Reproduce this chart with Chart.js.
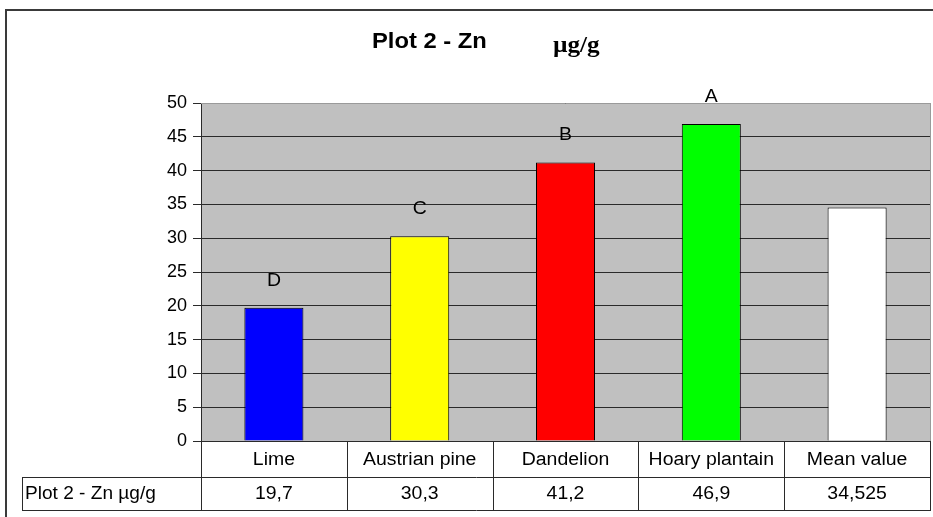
<!DOCTYPE html>
<html>
<head>
<meta charset="utf-8">
<script src="https://cdn.jsdelivr.net/npm/chart.js@4/dist/chart.umd.min.js"></script>
<style>
  html, body { margin: 0; padding: 0; background: #ffffff; }
  #wrap { width: 933px; height: 517px; position: relative; }
</style>
</head>
<body>
<div id="wrap"><canvas id="c" width="933" height="517"></canvas></div>
<script>
// ---- data ----
const categories = ["Lime", "Austrian pine", "Dandelion", "Hoary plantain", "Mean value"];
const zincValues = [19.7, 30.3, 41.2, 46.9, 34.525];
const groupLetters = ["D", "C", "B", "A", ""];
const seriesLabel = "Plot 2 - Zn \u00b5g/g";
const yTicks = [0, 5, 10, 15, 20, 25, 30, 35, 40, 45, 50];

// ---- styles ----
const barColors = ["#0000ff", "#ffff00", "#ff0000", "#00ff00", "#ffffff"];
const SANS = "'Liberation Sans', Arial, sans-serif";
const SERIF = "'Liberation Serif', 'Times New Roman', serif";

const fmt = v => String(v).replace('.', ',');

// draw text slightly stretched horizontally, as in the reference
function wideText(ctx, text, x, y, sx) {
  ctx.save();
  ctx.translate(x, y);
  ctx.scale(sx, 1);
  ctx.fillText(text, 0, 0);
  ctx.restore();
}

const decorPlugin = {
  id: 'decor',
  beforeDraw(chart) {
    const ctx = chart.ctx, a = chart.chartArea;
    ctx.save();
    ctx.fillStyle = '#ffffff';
    ctx.fillRect(0, 0, chart.width, chart.height);
    ctx.fillStyle = '#c0c0c0';
    ctx.fillRect(a.left, a.top, a.right - a.left, a.bottom - a.top);
    ctx.restore();
  },
  afterDraw(chart) {
    const ctx = chart.ctx, a = chart.chartArea;
    const x = chart.scales.x;
    ctx.save();
    // right / top edge of plot area
    ctx.strokeStyle = '#9a9a9a';
    ctx.lineWidth = 1;
    ctx.beginPath();
    ctx.moveTo(a.right + 0.5, a.top); ctx.lineTo(a.right + 0.5, a.bottom);
    ctx.moveTo(a.left, a.top + 0.5); ctx.lineTo(a.right, a.top + 0.5);
    ctx.stroke();

    // letters above bars
    ctx.fillStyle = '#000000';
    ctx.font = '18px ' + SANS;
    ctx.textAlign = 'center';
    ctx.textBaseline = 'middle';
    const meta = chart.getDatasetMeta(0);
    meta.data.forEach((bar, i) => {
      if (groupLetters[i]) wideText(ctx, groupLetters[i], bar.x, bar.y - 27, 1.08);
    });

    // data table
    const n = categories.length;
    const colW = (a.right - a.left) / n;
    const row1Bottom = a.bottom + 36;
    const row2Bottom = a.bottom + 69;
    const labelLeft = 22;
    ctx.strokeStyle = '#2a2a2a';
    ctx.lineWidth = 1;
    ctx.beginPath();
    for (let i = 0; i <= n; i++) {
      const xx = Math.round(a.left + i * colW) + 0.5;
      ctx.moveTo(xx, a.bottom); ctx.lineTo(xx, row2Bottom);
    }
    ctx.moveTo(labelLeft, row1Bottom + 0.5); ctx.lineTo(a.right + 1, row1Bottom + 0.5);
    ctx.moveTo(labelLeft, row2Bottom + 0.5); ctx.lineTo(a.right + 1, row2Bottom + 0.5);
    ctx.moveTo(labelLeft + 0.5, row1Bottom); ctx.lineTo(labelLeft + 0.5, row2Bottom);
    ctx.stroke();

    ctx.fillStyle = '#000000';
    ctx.font = '18px ' + SANS;
    ctx.textAlign = 'center';
    ctx.textBaseline = 'middle';
    categories.forEach((c, i) => {
      const cx = x.getPixelForValue(i);
      wideText(ctx, c, cx, (a.bottom + row1Bottom) / 2 + 1, 1.08);
      wideText(ctx, fmt(zincValues[i]), cx, (row1Bottom + row2Bottom) / 2 + 1, 1.08);
    });
    ctx.textAlign = 'left';
    wideText(ctx, seriesLabel, labelLeft + 3, (row1Bottom + row2Bottom) / 2 + 1, 1.06);

    // title
    ctx.font = 'bold 22px ' + SANS;
    ctx.textAlign = 'left';
    wideText(ctx, 'Plot 2 - Zn', 372, 42, 1.08);
    ctx.font = 'bold 24px ' + SERIF;
    wideText(ctx, '\u00b5g/g', 553, 46, 1.05);

    // outer frame
    ctx.strokeStyle = '#3a3a3a';
    ctx.lineWidth = 2;
    ctx.beginPath();
    ctx.moveTo(6, chart.height); ctx.lineTo(6, 10); ctx.lineTo(chart.width, 10);
    ctx.stroke();
    ctx.restore();
  }
};

new Chart(document.getElementById('c'), {
  type: 'bar',
  data: {
    labels: categories,
    datasets: [{
      label: seriesLabel,
      data: zincValues,
      backgroundColor: barColors,
      borderColor: '#000000',
      borderWidth: 1,
      barPercentage: 0.405,
      categoryPercentage: 1.0
    }]
  },
  options: {
    responsive: false,
    animation: false,
    devicePixelRatio: 1,
    layout: { padding: { left: 0, top: 103, right: 3, bottom: 76 } },
    plugins: {
      legend: { display: false },
      title: { display: false },
      tooltip: { enabled: false }
    },
    scales: {
      x: {
        display: false,
        offset: true
      },
      y: {
        min: 0,
        max: 50,
        afterFit: s => { s.width = 201; },
        afterBuildTicks: s => { s.ticks = yTicks.map(v => ({ value: v })); },
        ticks: {
          color: '#000000',
          font: { family: SANS, size: 18 },
          padding: 6
        },
        grid: {
          color: '#2a2a2a',
          lineWidth: 1,
          tickLength: 8,
          drawOnChartArea: true
        },
        border: { display: true, color: '#2a2a2a', width: 1 }
      }
    }
  },
  plugins: [decorPlugin]
});
</script>
</body>
</html>
